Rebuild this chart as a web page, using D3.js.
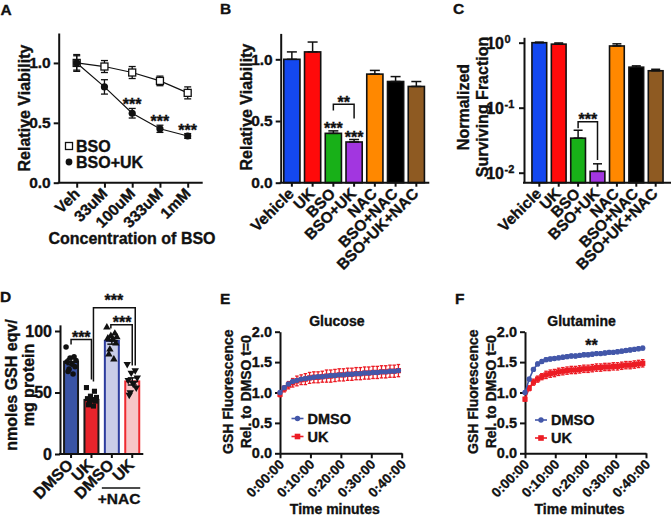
<!DOCTYPE html>
<html><head><meta charset="utf-8">
<script src="https://cdn.jsdelivr.net/npm/d3@7"></script>
<style>
body{margin:0;background:#fff}
svg text{font-family:"Liberation Sans",Arial,Helvetica,sans-serif;font-weight:bold;fill:#111;stroke:#111;stroke-width:0.35px;paint-order:stroke}
</style>
</head><body>
<svg id="c" width="671" height="516"></svg>
<script>
// ---------------- DATA ----------------
// Panel A
const concLabels = ["Veh","33uM","100uM","333uM","1mM"];
const bsoMean   = [1.00,0.97,0.92,0.85,0.75];
const bsoErr    = [0.07,0.05,0.05,0.04,0.05];
const bsoUkMean = [1.00,0.80,0.58,0.45,0.39];
const bsoUkErr  = [0.06,0.06,0.04,0.03,0.02];
const aSigIdx   = [2,3,4];
const aYTicks   = [0,0.5,1.0];
// Panel B / C
const treatments = ["Vehicle","UK","BSO","BSO+UK","NAC","BSO+NAC","BSO+UK+NAC"];
const treatColors = ["#1448f0","#ff0a0a","#18b018","#a236e0","#ff8800","#000000","#8e5a22"];
const viabB    = [1.00,1.06,0.40,0.33,0.88,0.82,0.78];
const viabBErr = [0.06,0.08,0.02,0.02,0.03,0.04,0.04];
const bYTicks  = [0,0.5,1.0];
const survC    = [1.00,0.95,0.034,0.0105,0.89,0.42,0.37];
const survCErr = [0.02,0.04,0.011,0.0032,0.07,0.02,0.02];
const cYTicks  = [1,0.1,0.01];
const cYExp    = ["0","-1","-2"];
// Panel D
const groupsD  = ["DMSO","UK","DMSO ","UK "];
const gshMean  = [75,44,92,59];
const gshSem   = [2.4,1.7,2.7,2.9];
const gshDots  = [[87,79,78,76,75,73,71,69,67,65],
                  [54,51,47,46,45,44,43,42,40,39],
                  [103,98,96,95,94,93,90,85,81,77],
                  [73,68,66,62,60,57,54,50,48]];
const dFill    = ["#3a54a4","#e8242c","#c9cde8","#f7c6c8"];
const dStroke  = ["#1a1a1a","#1a1a1a","#2c3c9e","#ee2a30"];
const dYTicks  = [0,50,100];
// Panels E / F
const timeMin  = [0,1.39,2.78,4.17,5.56,6.95,8.34,9.73,11.12,12.51,13.9,15.29,16.68,18.07,19.46,20.85,22.24,23.63,25.02,26.41,27.8,29.19,30.58,31.97,33.36,34.75,36.14,37.53,38.92];
const timeTicks = [0,10,20,30,40];
const timeTickLabels = ["0:00:00","0:10:00","0:20:00","0:30:00","0:40:00"];
const efYTicks = [0,0.5,1.0,1.5,2.0];
const glcDmso    = [1.00,1.08,1.14,1.18,1.20,1.22,1.23,1.24,1.25,1.26,1.26,1.27,1.28,1.28,1.29,1.29,1.30,1.30,1.31,1.31,1.32,1.32,1.33,1.33,1.34,1.34,1.35,1.35,1.36];
const glcDmsoErr = [0.02,0.02,0.02,0.02,0.02,0.02,0.02,0.02,0.02,0.02,0.02,0.02,0.02,0.02,0.02,0.02,0.02,0.02,0.02,0.02,0.02,0.02,0.02,0.02,0.02,0.02,0.02,0.02,0.02];
const glcUk      = [0.97,1.06,1.12,1.16,1.19,1.21,1.22,1.24,1.25,1.25,1.26,1.27,1.27,1.28,1.29,1.29,1.30,1.30,1.31,1.31,1.32,1.32,1.33,1.33,1.34,1.34,1.35,1.35,1.36];
const glcUkErr   = [0.04,0.05,0.06,0.07,0.08,0.08,0.09,0.09,0.09,0.09,0.09,0.10,0.10,0.10,0.10,0.10,0.10,0.10,0.10,0.10,0.10,0.10,0.10,0.10,0.10,0.10,0.10,0.10,0.10];
const glnDmso    = [1.00,1.22,1.38,1.47,1.51,1.54,1.55,1.56,1.57,1.58,1.59,1.60,1.60,1.61,1.62,1.62,1.63,1.64,1.64,1.65,1.66,1.66,1.67,1.68,1.69,1.70,1.71,1.72,1.73];
const glnDmsoErr = [0.02,0.03,0.03,0.03,0.03,0.03,0.03,0.03,0.03,0.03,0.03,0.03,0.03,0.03,0.03,0.03,0.03,0.03,0.03,0.03,0.03,0.03,0.03,0.03,0.03,0.03,0.03,0.03,0.03];
const glnUk      = [0.89,1.07,1.17,1.22,1.26,1.29,1.31,1.32,1.34,1.35,1.36,1.37,1.37,1.38,1.39,1.39,1.40,1.41,1.41,1.42,1.42,1.43,1.43,1.44,1.45,1.45,1.46,1.47,1.48];
const glnUkErr   = [0.03,0.04,0.05,0.05,0.05,0.06,0.06,0.06,0.06,0.06,0.06,0.06,0.06,0.06,0.06,0.06,0.06,0.06,0.06,0.06,0.06,0.06,0.06,0.06,0.06,0.06,0.06,0.06,0.06];
const blueEF = "#4357a9", redEF = "#ec1c24";

// ---------------- HELPERS ----------------
const INK = "#111";
const svg = d3.select("#c");
svg.append("rect").attr("width",671).attr("height",516).attr("fill","#fff");

function styleAxis(g, fs){
  g.attr("font-family",null).attr("font-size",fs);
  g.select(".domain").attr("stroke",INK).attr("stroke-width",2);
  g.selectAll(".tick line").attr("stroke",INK).attr("stroke-width",2);
  g.selectAll(".tick text").attr("fill",INK).attr("font-size",fs);
  return g;
}
function hline(g,x1,x2,y,w){ g.append("line").attr("x1",x1).attr("x2",x2).attr("y1",y).attr("y2",y).attr("stroke",INK).attr("stroke-width",w||2); }
function rotLabels(g, labels, xf, y0, fs, dx, dy){
  g.selectAll(null).data(labels).join("text")
    .attr("transform",(d,i)=>`translate(${xf(d,i)+dx},${y0+dy}) rotate(-45)`)
    .attr("text-anchor","end").attr("font-size",fs).text(d=>d.trim());
}
function yTitle(g, lines, cx, cy, fs, lh){
  const t = g.append("text").attr("transform",`translate(${cx},${cy}) rotate(-90)`)
    .attr("text-anchor","middle").attr("font-size",fs);
  lines.forEach((l,i)=>t.append("tspan").attr("x",0).attr("y",(i-(lines.length-1)/2)*lh).attr("dy","0.35em").text(l));
}
function errBar(g, x, yTop, yBot, cap, color, sw){
  g.append("line").attr("x1",x).attr("x2",x).attr("y1",yTop).attr("y2",yBot).attr("stroke",color).attr("stroke-width",sw);
  g.append("line").attr("x1",x-cap/2).attr("x2",x+cap/2).attr("y1",yTop).attr("y2",yTop).attr("stroke",color).attr("stroke-width",sw);
  if(yBot!==null) g.append("line").attr("x1",x-cap/2).attr("x2",x+cap/2).attr("y1",yBot).attr("y2",yBot).attr("stroke",color).attr("stroke-width",sw);
}
function bracket(g, x1, x2, y, yL, yR){
  g.append("path").attr("d",`M${x1},${yL}V${y}H${x2}V${yR}`).attr("fill","none").attr("stroke",INK).attr("stroke-width",1.5);
}
function stars(g, s, x, yBase, fs){
  g.append("text").attr("x",x).attr("y",yBase).attr("text-anchor","middle").attr("font-size",fs||16).text(s);
}
function panelLabel(s,x,y){ svg.append("text").attr("x",x).attr("y",y).attr("font-size",15.5).text(s); }

// ---------------- PANEL A ----------------
{
  const g = svg.append("g");
  const x = d3.scalePoint().domain(concLabels).range([76.7,187.7]);
  const y = d3.scaleLinear().domain([0,1.25]).range([182.7,33]);
  styleAxis(g.append("g").attr("transform","translate(58.7,0)")
    .call(d3.axisLeft(y).tickValues(aYTicks).tickFormat(d3.format(".1f")).tickSize(5).tickSizeOuter(0)),15.5);
  const ax = g.append("g").attr("transform","translate(0,182.7)").call(d3.axisBottom(x).tickSize(5).tickFormat(""));
  ax.select(".domain").remove(); styleAxis(ax,15);
  hline(g,57.7,202.7,182.7,2);
  rotLabels(g, concLabels, d=>x(d), 182.7, 15.5, 4, 12);
  g.append("text").attr("x",132).attr("y",244).attr("text-anchor","middle").attr("font-size",16).text("Concentration of BSO");
  yTitle(g,["Relative Viability"],24,108,16,0);
  const line = d3.line().x((d,i)=>x(concLabels[i])).y(d=>y(d));
  g.append("path").attr("d",line(bsoMean)).attr("fill","none").attr("stroke",INK).attr("stroke-width",1.2);
  g.append("path").attr("d",line(bsoUkMean)).attr("fill","none").attr("stroke",INK).attr("stroke-width",1.2);
  bsoMean.forEach((m,i)=>errBar(g,x(concLabels[i]),y(m+bsoErr[i]),y(m-bsoErr[i]),7,INK,1.3));
  bsoUkMean.forEach((m,i)=>errBar(g,x(concLabels[i]),y(m+bsoUkErr[i]),y(m-bsoUkErr[i]),7,INK,1.3));
  g.selectAll(null).data(bsoMean).join("rect").attr("x",(d,i)=>x(concLabels[i])-3.5).attr("y",d=>y(d)-3.5)
    .attr("width",7).attr("height",7).attr("fill","#fff").attr("stroke",INK).attr("stroke-width",1.3);
  g.selectAll(null).data(bsoUkMean).join("circle").attr("cx",(d,i)=>x(concLabels[i])).attr("cy",d=>y(d)).attr("r",3.6).attr("fill",INK);
  aSigIdx.forEach(i=>stars(g,"***",x(concLabels[i]),y(bsoUkMean[i]+bsoUkErr[i])+2));
  // legend
  g.append("rect").attr("x",65.5).attr("y",142.5).attr("width",7).attr("height",7).attr("fill","#fff").attr("stroke",INK).attr("stroke-width",1.3);
  g.append("text").attr("x",76).attr("y",151.5).attr("font-size",16).text("BSO");
  g.append("circle").attr("cx",69).attr("cy",162).attr("r",3.4).attr("fill",INK);
  g.append("text").attr("x",76).attr("y",168).attr("font-size",16).text("BSO+UK");
}
// ---------------- PANEL B ----------------
{
  const g = svg.append("g");
  const x = d3.scaleBand().domain(treatments).range([281.7,426.5]).paddingInner(0.22).paddingOuter(0.1);
  const y = d3.scaleLinear().domain([0,1.21]).range([182.7,33.4]);
  styleAxis(g.append("g").attr("transform","translate(280.7,0)")
    .call(d3.axisLeft(y).tickValues(bYTicks).tickFormat(d3.format(".1f")).tickSize(5).tickSizeOuter(0)),15.5);
  g.selectAll(null).data(viabB).join("rect").attr("x",(d,i)=>x(treatments[i])).attr("y",d=>y(d))
    .attr("width",x.bandwidth()).attr("height",d=>y(0)-y(d)).attr("fill",(d,i)=>treatColors[i]).attr("stroke",INK).attr("stroke-width",1.6);
  viabB.forEach((m,i)=>{const cx=x(treatments[i])+x.bandwidth()/2; errBar(g,cx,y(m+viabBErr[i]),y(m),10,INK,1.5);});
  const ax = g.append("g").attr("transform","translate(0,182.7)").call(d3.axisBottom(x).tickSize(4).tickFormat(""));
  ax.select(".domain").remove(); styleAxis(ax,15);
  hline(g,279.7,429.3,182.7,2);
  const cx = i=>x(treatments[i])+x.bandwidth()/2;
  rotLabels(g, treatments, d=>x(d)+x.bandwidth()/2, 182.7, 15.5, 3, 12);
  yTitle(g,["Relative Viability"],246.5,107,16,0);
  stars(g,"***",cx(2),y(viabB[2]+viabBErr[2])+3);
  stars(g,"***",cx(3),y(viabB[3]+viabBErr[3])+3);
  bracket(g,cx(2),cx(3),104.3,110.5,118.5);
  stars(g,"**",(cx(2)+cx(3))/2,107.5);
}
// ---------------- PANEL C ----------------
{
  const g = svg.append("g");
  const x = d3.scaleBand().domain(treatments).range([524,671]).paddingInner(0.24).paddingOuter(0.41);
  const y = d3.scaleLog().domain([0.00702,1.21]).range([182.7,37.3]);
  const axY = g.append("g").attr("transform","translate(524,0)")
    .call(d3.axisLeft(y).tickValues(cYTicks).tickFormat("").tickSize(5).tickSizeOuter(0));
  styleAxis(axY,15);
  axY.selectAll(".tick").append("text").attr("x",-20).attr("dy","0.38em").attr("text-anchor","end")
    .attr("fill",INK).attr("font-size",16).text("10");
  axY.selectAll(".tick").append("text").attr("x",-19.5).attr("dy","-0.05em").attr("text-anchor","start")
    .attr("fill",INK).attr("font-size",11).text((d,i)=>cYExp[i]);
  g.selectAll(null).data(survC).join("rect").attr("x",(d,i)=>x(treatments[i])).attr("y",d=>y(d))
    .attr("width",x.bandwidth()).attr("height",d=>y.range()[0]-y(d)).attr("fill",(d,i)=>treatColors[i]).attr("stroke",INK).attr("stroke-width",1.6);
  survC.forEach((m,i)=>{const c=x(treatments[i])+x.bandwidth()/2; errBar(g,c,y(m+survCErr[i]),y(m),9,INK,1.5);});
  const ax = g.append("g").attr("transform","translate(0,182.7)").call(d3.axisBottom(x).tickSize(4).tickFormat(""));
  ax.select(".domain").remove(); styleAxis(ax,15);
  hline(g,523,671,182.7,2);
  const cx = i=>x(treatments[i])+x.bandwidth()/2;
  rotLabels(g, treatments, d=>x(d)+x.bandwidth()/2, 182.7, 15.5, 3, 12);
  yTitle(g,["Normalized","Surviving Fraction"],472.5,107,16,19);
  bracket(g,cx(2),cx(3),121.7,128.3,160);
  stars(g,"***",(cx(2)+cx(3))/2,124.5);
}
// ---------------- PANEL D ----------------
{
  const g = svg.append("g");
  const x = d3.scaleBand().domain(groupsD).range([60,143.3]).paddingInner(0.216).paddingOuter(0.15);
  const y = d3.scaleLinear().domain([0,105]).range([454,324.85]);
  styleAxis(g.append("g").attr("transform","translate(60,0)")
    .call(d3.axisLeft(y).tickValues(dYTicks).tickFormat(d3.format("d")).tickSize(5).tickSizeOuter(0)),16);
  const cx = i=>x(groupsD[i])+x.bandwidth()/2;
  g.selectAll(null).data(gshMean).join("rect").attr("x",(d,i)=>x(groupsD[i])+1).attr("y",d=>y(d))
    .attr("width",x.bandwidth()-2).attr("height",d=>y(0)-y(d)).attr("fill",(d,i)=>dFill[i]).attr("stroke",(d,i)=>dStroke[i]).attr("stroke-width",2);
  const jit = [-5,3,-1,5,-4,1,4,-2,-3,2];
  const sym = [d3.symbolCircle,d3.symbolSquare,d3.symbolTriangle,d3.symbolTriangle];
  gshDots.forEach((arr,gi)=>{
    g.selectAll(null).data(arr).join("path")
      .attr("transform",(d,j)=>`translate(${cx(gi)+jit[j]},${y(d)})${gi===3?" rotate(180)":""}`)
      .attr("d",d3.symbol().type(sym[gi]).size(gi===1?26:24)).attr("fill",INK);
  });
  gshMean.forEach((m,i)=>{
    errBar(g,cx(i),y(m+gshSem[i]),y(m-gshSem[i]),9,INK,1.5);
    g.append("line").attr("x1",cx(i)-6).attr("x2",cx(i)+6).attr("y1",y(m)).attr("y2",y(m)).attr("stroke",INK).attr("stroke-width",1.5);
  });
  const ax = g.append("g").attr("transform","translate(0,454)").call(d3.axisBottom(x).tickSize(4).tickFormat(""));
  ax.select(".domain").remove(); styleAxis(ax,16);
  hline(g,59,143.3,454,2);
  rotLabels(g, groupsD, d=>x(d)+x.bandwidth()/2, 454, 16, 3, 12);
  yTitle(g,["nmoles GSH eqv/","mg protein"],20,385,16,17);
  g.append("line").attr("x1",x(groupsD[2])-2).attr("x2",x(groupsD[3])+x.bandwidth()).attr("y1",488).attr("y2",488).attr("stroke",INK).attr("stroke-width",1.5);
  g.append("text").attr("x",(cx(2)+cx(3))/2-3).attr("y",504).attr("text-anchor","middle").attr("font-size",15.5).text("+NAC");
  // significance brackets
  bracket(g,cx(0),cx(1),y(93),y(89),y(60.5));
  stars(g,"***",(cx(0)+cx(1))/2,y(93)+3.5);
  bracket(g,cx(1)+2,cx(3)+3,y(119),y(59),y(72));
  stars(g,"***",(cx(1)+cx(3))/2+2,y(119)-2);
  bracket(g,cx(2)-1,cx(3),y(105),y(102),y(72));
  stars(g,"***",(cx(2)+cx(3))/2,y(105)+3.5);
}
// ---------------- PANELS E / F ----------------
function timePanel(x0,x1,title,dm,dmE,uk,ukE,legX,legY,sig){
  const g = svg.append("g");
  const x = d3.scaleLinear().domain([0,40]).range([x0,x1]);
  const y = d3.scaleLinear().domain([0,2]).range([453.3,331.7]);
  styleAxis(g.append("g").attr("transform",`translate(${x0},0)`)
    .call(d3.axisLeft(y).tickValues(efYTicks).tickFormat(d3.format(".1f")).tickSize(5).tickSizeOuter(0)),14.5);
  styleAxis(g.append("g").attr("transform","translate(0,453.3)")
    .call(d3.axisBottom(x).tickValues(timeTicks).tickFormat("").tickSize(5).tickSizeOuter(0)),14);
  rotLabels(g, timeTickLabels, (d,i)=>x(timeTicks[i]), 453.3, 13.5, 5, 12);
  g.append("text").attr("x",(x0+x1)/2-6).attr("y",514).attr("text-anchor","middle").attr("font-size",14).text("Time minutes");
  g.append("text").attr("x",(x0+x1)/2-4).attr("y",326).attr("text-anchor","middle").attr("font-size",14).text(title);
  yTitle(g,["GSH Fluorescence","Rel. to DMSO t=0"],x0-43,391.7,14,17.5);
  const line = d3.line().x((d,i)=>x(timeMin[i])).y(d=>y(d));
  [[uk,ukE,redEF,"sq"],[dm,dmE,blueEF,"ci"]].forEach(([v,e,col,mk])=>{
    g.append("path").attr("d",line(v)).attr("fill","none").attr("stroke",col).attr("stroke-width",1.6);
    v.forEach((m,i)=>errBar(g,x(timeMin[i]),y(m+e[i]),y(m-e[i]),3.5,col,1.3));
    if(mk==="sq") g.selectAll(null).data(v).join("rect").attr("x",(d,i)=>x(timeMin[i])-2.6).attr("y",d=>y(d)-2.6).attr("width",5.2).attr("height",5.2).attr("fill",col);
    else g.selectAll(null).data(v).join("circle").attr("cx",(d,i)=>x(timeMin[i])).attr("cy",d=>y(d)).attr("r",2.7).attr("fill",col);
  });
  // legend
  g.append("line").attr("x1",legX-6).attr("x2",legX+6).attr("y1",legY).attr("y2",legY).attr("stroke",blueEF).attr("stroke-width",1.6);
  g.append("circle").attr("cx",legX).attr("cy",legY).attr("r",2.7).attr("fill",blueEF);
  g.append("text").attr("x",legX+10).attr("y",legY+5).attr("font-size",14.5).text("DMSO");
  g.append("line").attr("x1",legX-6).attr("x2",legX+6).attr("y1",legY+18).attr("y2",legY+18).attr("stroke",redEF).attr("stroke-width",1.6);
  g.append("rect").attr("x",legX-2.8).attr("y",legY+18-2.8).attr("width",5.6).attr("height",5.6).attr("fill",redEF);
  g.append("text").attr("x",legX+10).attr("y",legY+23).attr("font-size",14.5).text("UK");
  if(sig) stars(g,sig,x(22),351);
}
timePanel(280,401.7,"Glucose",glcDmso,glcDmsoErr,glcUk,glcUkErr,297.5,418.5,null);
timePanel(525,646,"Glutamine",glnDmso,glnDmsoErr,glnUk,glnUkErr,541,420,"**");

panelLabel("A",0.5,15); panelLabel("B",220,13.5); panelLabel("C",453,14);
panelLabel("D",0,302); panelLabel("E",220,303.5); panelLabel("F",455,303.5);
</script>
</body></html>
